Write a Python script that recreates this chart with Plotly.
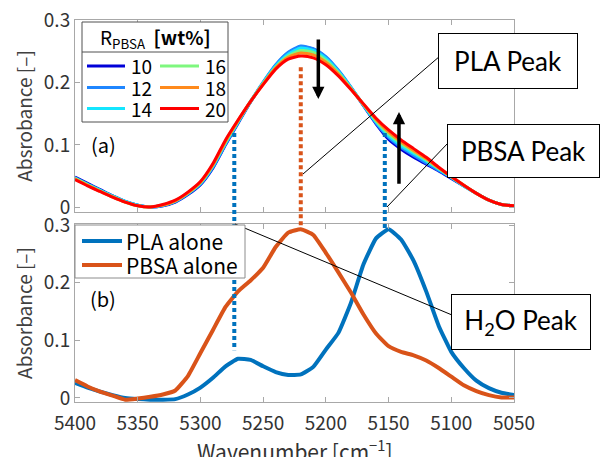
import plotly.graph_objects as go

# Wavenumber grid [cm^-1]
wavenumber = list(range(5400, 5049, -10))

# (a) blends: absorbance for each PBSA content
ratio_labels = ["10", "12", "14", "16", "18", "20"]
ratio_colors = ["#0000d8", "#1f86ff", "#14e6ff", "#7ef77e", "#ff8a1c", "#ff0000"]

abs_10 = [0.048, 0.038, 0.028, 0.018, 0.009, 0.003, 0.000, 0.002, 0.008, 0.020,
          0.036, 0.063, 0.100, 0.135, 0.169, 0.200, 0.228, 0.248, 0.258, 0.254,
          0.241, 0.219, 0.192, 0.163, 0.134, 0.109, 0.093, 0.080, 0.069, 0.058,
          0.046, 0.034, 0.022, 0.011, 0.004, 0.002]
abs_12 = [0.047, 0.037, 0.027, 0.018, 0.009, 0.003, 0.000, 0.002, 0.009, 0.021,
          0.037, 0.064, 0.101, 0.136, 0.170, 0.201, 0.229, 0.249, 0.259, 0.255,
          0.242, 0.220, 0.193, 0.164, 0.135, 0.112, 0.096, 0.083, 0.071, 0.059,
          0.047, 0.034, 0.022, 0.011, 0.004, 0.002]
abs_14 = [0.046, 0.036, 0.027, 0.017, 0.009, 0.003, 0.000, 0.003, 0.009, 0.022,
          0.038, 0.066, 0.103, 0.137, 0.170, 0.200, 0.227, 0.246, 0.256, 0.252,
          0.239, 0.218, 0.192, 0.164, 0.137, 0.115, 0.099, 0.086, 0.074, 0.061,
          0.048, 0.034, 0.022, 0.011, 0.004, 0.002]
abs_16 = [0.046, 0.036, 0.026, 0.017, 0.008, 0.002, 0.000, 0.003, 0.010, 0.022,
          0.039, 0.067, 0.104, 0.138, 0.170, 0.199, 0.225, 0.243, 0.252, 0.249,
          0.236, 0.216, 0.191, 0.165, 0.139, 0.118, 0.102, 0.089, 0.076, 0.062,
          0.048, 0.035, 0.022, 0.011, 0.004, 0.002]
abs_18 = [0.045, 0.035, 0.025, 0.016, 0.008, 0.002, 0.000, 0.003, 0.010, 0.023,
          0.040, 0.068, 0.106, 0.139, 0.170, 0.198, 0.224, 0.241, 0.248, 0.245,
          0.233, 0.214, 0.190, 0.165, 0.141, 0.121, 0.105, 0.091, 0.078, 0.063,
          0.049, 0.035, 0.022, 0.011, 0.004, 0.002]
abs_20 = [0.044, 0.034, 0.025, 0.016, 0.008, 0.002, 0.000, 0.004, 0.011, 0.024,
          0.041, 0.070, 0.108, 0.140, 0.170, 0.197, 0.222, 0.238, 0.243, 0.240,
          0.229, 0.211, 0.189, 0.166, 0.143, 0.124, 0.108, 0.094, 0.080, 0.064,
          0.049, 0.035, 0.022, 0.011, 0.004, 0.002]
blend_spectra = [abs_10, abs_12, abs_14, abs_16, abs_18, abs_20]

# (b) neat polymers
pla_alone = [0.026, 0.018, 0.011, 0.005, 0.000, -0.002, -0.003, -0.003, -0.002, 0.006,
             0.018, 0.035, 0.055, 0.068, 0.066, 0.055, 0.045, 0.040, 0.041, 0.054,
             0.084, 0.113, 0.165, 0.232, 0.277, 0.293, 0.275, 0.238, 0.185, 0.125,
             0.080, 0.052, 0.030, 0.017, 0.009, 0.005]
pbsa_alone = [0.031, 0.020, 0.011, 0.004, -0.003, -0.001, 0.002, 0.006, 0.013, 0.038,
              0.078, 0.118, 0.158, 0.185, 0.204, 0.226, 0.262, 0.287, 0.293, 0.283,
              0.252, 0.218, 0.183, 0.145, 0.112, 0.090, 0.080, 0.074, 0.065, 0.052,
              0.037, 0.022, 0.012, 0.005, 0.001, 0.001]
neat_labels = ["PLA alone", "PBSA alone"]
neat_colors = ["#0072bd", "#d95319"]

# Peak guide lines: wavenumber, colour, (top-panel value, bottom-panel value)
peak_guides = [
    (5273, "#0072bd", 0.119, 0.083),
    (5220, "#d95319", 0.225, 0.297),
    (5153, "#0072bd", 0.119, 0.295),
]

# Figure geometry
FIG_W, FIG_H = 600, 457
ML, MR, MT, MB = 75, 86, 20, 55
TOP_DOM = [0.4974, 1.0]
BOT_DOM = [0.0, 0.466]
TOP_RANGE = [-0.008, 0.301]
BOT_RANGE = [-0.007, 0.302]


def px(x, y):
    """Pixel position -> paper coordinates."""
    return ((x - ML) / (FIG_W - ML - MR), (FIG_H - MB - y) / (FIG_H - MT - MB))


def val_to_paper(v, dom, rng):
    return dom[0] + (v - rng[0]) / (rng[1] - rng[0]) * (dom[1] - dom[0])


JP = "Noto Sans CJK JP"
TICK_FONT = dict(family=JP, size=19, color="#333333")
FRAME = "#a8a8a8"

fig = go.Figure()

for lab, col, ys in zip(ratio_labels, ratio_colors, blend_spectra):
    fig.add_trace(go.Scatter(
        x=wavenumber, y=ys, mode="lines", name=lab,
        line=dict(color=col, width=3, shape="spline", smoothing=0.6),
        xaxis="x", yaxis="y", showlegend=False))

for lab, col, ys in zip(neat_labels, neat_colors, [pla_alone, pbsa_alone]):
    fig.add_trace(go.Scatter(
        x=wavenumber, y=ys, mode="lines", name=lab,
        line=dict(color=col, width=4, shape="spline", smoothing=0.4),
        xaxis="x2", yaxis="y2", showlegend=False))

axis_style = dict(showline=True, linecolor=FRAME, linewidth=1, mirror="ticks",
                  ticks="inside", ticklen=5, tickcolor=FRAME, showgrid=False,
                  zeroline=False, tickfont=TICK_FONT)

shapes = []
annotations = []

# Dotted peak guides spanning both panels
for wn, col, v_top, v_bot in peak_guides:
    shapes.append(dict(type="line", xref="x", yref="paper",
                       x0=wn, x1=wn,
                       y0=val_to_paper(v_top, TOP_DOM, TOP_RANGE),
                       y1=val_to_paper(v_bot, BOT_DOM, BOT_RANGE),
                       line=dict(color=col, width=4, dash="4px,3px")))

# Callout boxes with leader lines
callouts = [
    ("PLA Peak", (508, 60.5), 136, 52, (303, 174), (440, 56)),
    ("PBSA Peak", (523.5, 150.5), 149, 50, (387, 207), (448, 143)),
    ("H<sub>2</sub>O Peak", (521, 321.5), 136, 52, (235, 224), (452, 315)),
]
for text, (cx, cy), w, h, p0, p1 in callouts:
    x0, y0 = px(*p0)
    x1, y1 = px(*p1)
    shapes.append(dict(type="line", xref="paper", yref="paper",
                       x0=x0, y0=y0, x1=x1, y1=y1,
                       line=dict(color="black", width=1)))
    ax_, ay_ = px(cx, cy)
    annotations.append(dict(text=text, xref="paper", yref="paper", x=ax_, y=ay_,
                            xanchor="center", yanchor="middle", showarrow=False,
                            width=w, height=h, bgcolor="white", bordercolor="black",
                            borderwidth=1, borderpad=1,
                            font=dict(family="Lato", size=26, color="black")))

# Trend arrows in panel (a)
annotations.append(dict(x=5206, y=0.174, ax=5206, ay=0.272, xref="x", yref="y",
                        axref="x", ayref="y", showarrow=True, arrowhead=2,
                        arrowsize=0.7, arrowwidth=3.5, arrowcolor="black", text=""))
annotations.append(dict(x=5141.7, y=0.153, ax=5141.7, ay=0.035, xref="x", yref="y",
                        axref="x", ayref="y", showarrow=True, arrowhead=2,
                        arrowsize=0.7, arrowwidth=3.5, arrowcolor="black", text=""))

# Panel labels
for lab, (cx, cy) in [("(a)", (103, 144)), ("(b)", (103, 298))]:
    x_, y_ = px(cx, cy)
    annotations.append(dict(text=lab, xref="paper", yref="paper", x=x_, y=y_,
                            xanchor="center", yanchor="middle", showarrow=False,
                            font=dict(family=JP, size=20, color="black")))

# Shared x-axis title below the lower panel
xt, yt = px((ML + FIG_W - MR) / 2, 450)
annotations.append(dict(text="Wavenumber [cm<sup>−1</sup>]", xref="paper", yref="paper",
                        x=xt, y=yt, xanchor="center", yanchor="middle", showarrow=False,
                        font=dict(family=JP, size=21, color="#333333")))

# Legend box of panel (a)
bx0, by0 = px(82, 22)
bx1, by1 = px(228, 122)
shapes.append(dict(type="rect", xref="paper", yref="paper", x0=bx0, y0=by0, x1=bx1, y1=by1,
                   line=dict(color="#505050", width=1), fillcolor="white", layer="above"))
sx0, sy = px(82, 52)
sx1, _ = px(228, 52)
shapes.append(dict(type="line", xref="paper", yref="paper", x0=sx0, y0=sy, x1=sx1, y1=sy,
                   line=dict(color="#505050", width=1)))
tx, ty = px(155, 38)
annotations.append(dict(text="R<sub>PBSA</sub>  <b>[wt%]</b>", xref="paper", yref="paper",
                        x=tx, y=ty, xanchor="center", yanchor="middle", showarrow=False,
                        font=dict(family=JP, size=19, color="black")))
LEG_FONT_A = dict(family=JP, size=19, color="black")
rows_y = [66, 87.5, 108.5]
cols_x = [(87, 125, 129), (160, 199, 203)]
for i, (lab, col) in enumerate(zip(ratio_labels, ratio_colors)):
    c, r = divmod(i, 3)
    lx0, lx1, tx_ = cols_x[c]
    a0, yy = px(lx0, rows_y[r])
    a1, _ = px(lx1, rows_y[r])
    shapes.append(dict(type="line", xref="paper", yref="paper", x0=a0, y0=yy, x1=a1, y1=yy,
                       line=dict(color=col, width=3)))
    t_, _ = px(tx_, rows_y[r])
    annotations.append(dict(text=lab, xref="paper", yref="paper", x=t_, y=yy,
                            xanchor="left", yanchor="middle", showarrow=False,
                            font=LEG_FONT_A))

# Legend box of panel (b)
bx0, by0 = px(75, 225)
bx1, by1 = px(245, 278)
shapes.append(dict(type="rect", xref="paper", yref="paper", x0=bx0, y0=by0, x1=bx1, y1=by1,
                   line=dict(color="#8c8c8c", width=1), fillcolor="white", layer="above"))
LEG_FONT_B = dict(family=JP, size=21, color="black")
for lab, col, ry in zip(neat_labels, neat_colors, [241, 265]):
    a0, yy = px(82, ry)
    a1, _ = px(122, ry)
    shapes.append(dict(type="line", xref="paper", yref="paper", x0=a0, y0=yy, x1=a1, y1=yy,
                       line=dict(color=col, width=4)))
    t_, _ = px(124, ry)
    annotations.append(dict(text=lab, xref="paper", yref="paper", x=t_, y=yy,
                            xanchor="left", yanchor="middle", showarrow=False,
                            font=LEG_FONT_B))

fig.update_layout(
    width=FIG_W, height=FIG_H,
    margin=dict(l=ML, r=MR, t=MT, b=MB, autoexpand=False),
    paper_bgcolor="white", plot_bgcolor="white",
    showlegend=False,
    xaxis=dict(domain=[0, 1], range=[5400, 5050], anchor="y", dtick=50, tick0=5050,
               showticklabels=False, **axis_style),
    xaxis2=dict(domain=[0, 1], range=[5400, 5050], anchor="y2", dtick=50, tick0=5050,
                ticklabelstandoff=4, **axis_style),
    yaxis=dict(domain=TOP_DOM, range=TOP_RANGE, anchor="x", dtick=0.1, tick0=0,
               title=dict(text="Absrobance [–]", standoff=6,
                          font=dict(family=JP, size=19, color="#404040")),
               **axis_style),
    yaxis2=dict(domain=BOT_DOM, range=BOT_RANGE, anchor="x2", dtick=0.1, tick0=0,
                title=dict(text="Absorbance [–]", standoff=6,
                           font=dict(family=JP, size=19, color="#404040")),
                **axis_style),
    shapes=shapes,
    annotations=annotations,
)

fig.write_html("out.html")
